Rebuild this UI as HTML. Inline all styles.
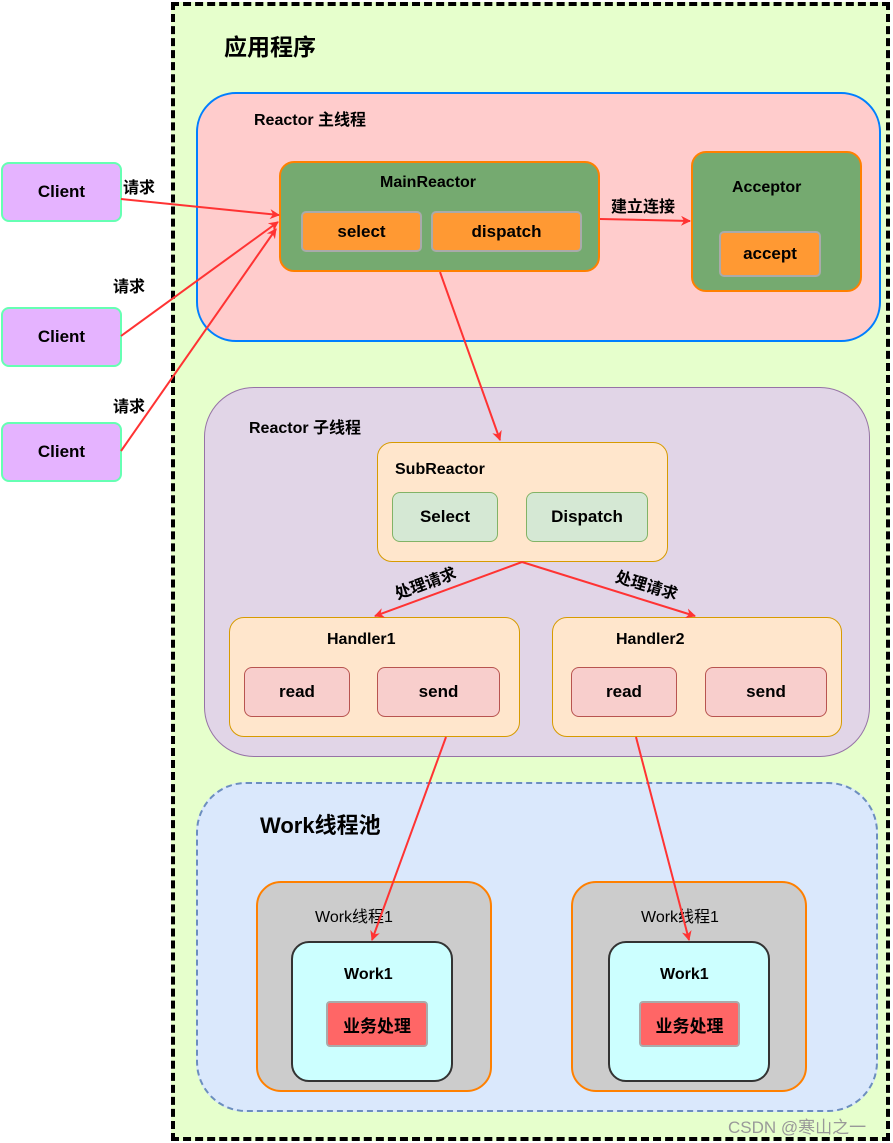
<!DOCTYPE html>
<html><head><meta charset="utf-8"><style>
body{margin:0;width:893px;height:1143px;position:relative;background:#fff;font-family:"Liberation Sans","Noto Sans CJK SC",sans-serif;font-weight:bold;color:#000;overflow:hidden}
.b{position:absolute;box-sizing:border-box;}
.c{display:flex;align-items:center;justify-content:center;font-size:17px}
.t{position:absolute;font-size:16px;white-space:nowrap}
</style></head><body>
<div class="b" style="left:171px;top:2px;width:719px;height:1139px;background:#e6ffcc;border:4px dashed #000"></div>
<div class="t" style="left:224px;top:28px;font-size:23px">应用程序</div>

<div class="b c" style="left:1px;top:162px;width:121px;height:60px;background:#e5b3ff;border:2px solid #66ffb3;border-radius:8px">Client</div>
<div class="b c" style="left:1px;top:307px;width:121px;height:60px;background:#e5b3ff;border:2px solid #66ffb3;border-radius:8px">Client</div>
<div class="b c" style="left:1px;top:422px;width:121px;height:60px;background:#e5b3ff;border:2px solid #66ffb3;border-radius:8px">Client</div>
<div class="t" style="left:123px;top:174px">请求</div>
<div class="t" style="left:113px;top:273px">请求</div>
<div class="t" style="left:113px;top:393px">请求</div>

<div class="b" style="left:196px;top:92px;width:685px;height:250px;background:#ffcccc;border:2px solid #007fff;border-radius:40px"></div>
<div class="t" style="left:254px;top:106px">Reactor 主线程</div>
<div class="b" style="left:279px;top:161px;width:321px;height:111px;background:#75aa70;border:2px solid #ff8000;border-radius:15px"></div>
<div class="t" style="left:380px;top:174px">MainReactor</div>
<div class="b c" style="left:301px;top:211px;width:121px;height:41px;background:#ff9933;border:2px solid #aaa;border-radius:5px">select</div>
<div class="b c" style="left:431px;top:211px;width:151px;height:41px;background:#ff9933;border:2px solid #aaa;border-radius:5px">dispatch</div>
<div class="b" style="left:691px;top:151px;width:171px;height:141px;background:#75aa70;border:2px solid #ff8000;border-radius:15px"></div>
<div class="t" style="left:732px;top:179px">Acceptor</div>
<div class="b c" style="left:719px;top:231px;width:102px;height:46px;background:#ff9933;border:2px solid #aaa;border-radius:5px">accept</div>
<div class="t" style="left:611px;top:193px">建立连接</div>

<div class="b" style="left:204px;top:387px;width:666px;height:370px;background:#e1d5e7;border:1px solid #9673a6;border-radius:50px"></div>
<div class="t" style="left:249px;top:414px">Reactor 子线程</div>
<div class="b" style="left:377px;top:442px;width:291px;height:120px;background:#ffe6cc;border:1px solid #d79b00;border-radius:15px"></div>
<div class="t" style="left:395px;top:461px">SubReactor</div>
<div class="b c" style="left:392px;top:492px;width:106px;height:50px;background:#d5e8d4;border:1px solid #82b366;border-radius:8px">Select</div>
<div class="b c" style="left:526px;top:492px;width:122px;height:50px;background:#d5e8d4;border:1px solid #82b366;border-radius:8px">Dispatch</div>
<div class="t" style="left:393px;top:570px;transform:rotate(-20deg)">处理请求</div>
<div class="t" style="left:615px;top:572px;transform:rotate(17deg)">处理请求</div>

<div class="b" style="left:229px;top:617px;width:291px;height:120px;background:#ffe6cc;border:1px solid #d79b00;border-radius:15px"></div>
<div class="t" style="left:327px;top:631px">Handler1</div>
<div class="b c" style="left:244px;top:667px;width:106px;height:50px;background:#f8cecc;border:1px solid #b85450;border-radius:8px">read</div>
<div class="b c" style="left:377px;top:667px;width:123px;height:50px;background:#f8cecc;border:1px solid #b85450;border-radius:8px">send</div>
<div class="b" style="left:552px;top:617px;width:290px;height:120px;background:#ffe6cc;border:1px solid #d79b00;border-radius:15px"></div>
<div class="t" style="left:616px;top:631px">Handler2</div>
<div class="b c" style="left:571px;top:667px;width:106px;height:50px;background:#f8cecc;border:1px solid #b85450;border-radius:8px">read</div>
<div class="b c" style="left:705px;top:667px;width:122px;height:50px;background:#f8cecc;border:1px solid #b85450;border-radius:8px">send</div>

<div class="b" style="left:196px;top:782px;width:682px;height:330px;background:#dae8fc;border:2px dashed #6c8ebf;border-radius:50px"></div>
<div class="t" style="left:260px;top:808px;font-size:22px">Work线程池</div>
<div class="b" style="left:256px;top:881px;width:236px;height:211px;background:#cccccc;border:2px solid #ff8000;border-radius:25px"></div>
<div class="t" style="left:315px;top:903px;font-weight:normal">Work线程1</div>
<div class="b" style="left:291px;top:941px;width:162px;height:141px;background:#ccffff;border:2px solid #333;border-radius:18px"></div>
<div class="t" style="left:344px;top:966px">Work1</div>
<div class="b c" style="left:326px;top:1001px;width:102px;height:46px;background:#ff6666;border:2px solid #aaa;border-radius:4px">业务处理</div>
<div class="b" style="left:571px;top:881px;width:236px;height:211px;background:#cccccc;border:2px solid #ff8000;border-radius:25px"></div>
<div class="t" style="left:641px;top:903px;font-weight:normal">Work线程1</div>
<div class="b" style="left:608px;top:941px;width:162px;height:141px;background:#ccffff;border:2px solid #333;border-radius:18px"></div>
<div class="t" style="left:660px;top:966px">Work1</div>
<div class="b c" style="left:639px;top:1001px;width:101px;height:46px;background:#ff6666;border:2px solid #aaa;border-radius:4px">业务处理</div>
<div class="t" style="left:728px;top:1113px;font-weight:normal;color:#999;font-size:17px">CSDN @寒山之一</div>

<svg width="893" height="1143" style="position:absolute;left:0;top:0">
<defs><marker id="a" markerWidth="10" markerHeight="10" refX="9" refY="5" orient="auto" markerUnits="userSpaceOnUse"><path d="M0,0 L10,5 L0,10 L3,5z" fill="#ff3333"/></marker></defs>
<g stroke="#ff3333" stroke-width="2" fill="none" marker-end="url(#a)">
<line x1="121" y1="199" x2="279" y2="215"/>
<line x1="121" y1="336" x2="278" y2="222"/>
<line x1="121" y1="451" x2="276" y2="229"/>
<line x1="600" y1="219" x2="690" y2="221"/>
<line x1="440" y1="272" x2="500" y2="440"/>
<line x1="522" y1="562" x2="375" y2="616"/>
<line x1="522" y1="562" x2="695" y2="616"/>
<line x1="446" y1="737" x2="372" y2="940"/>
<line x1="636" y1="737" x2="689" y2="940"/>
</g></svg>
</body></html>
